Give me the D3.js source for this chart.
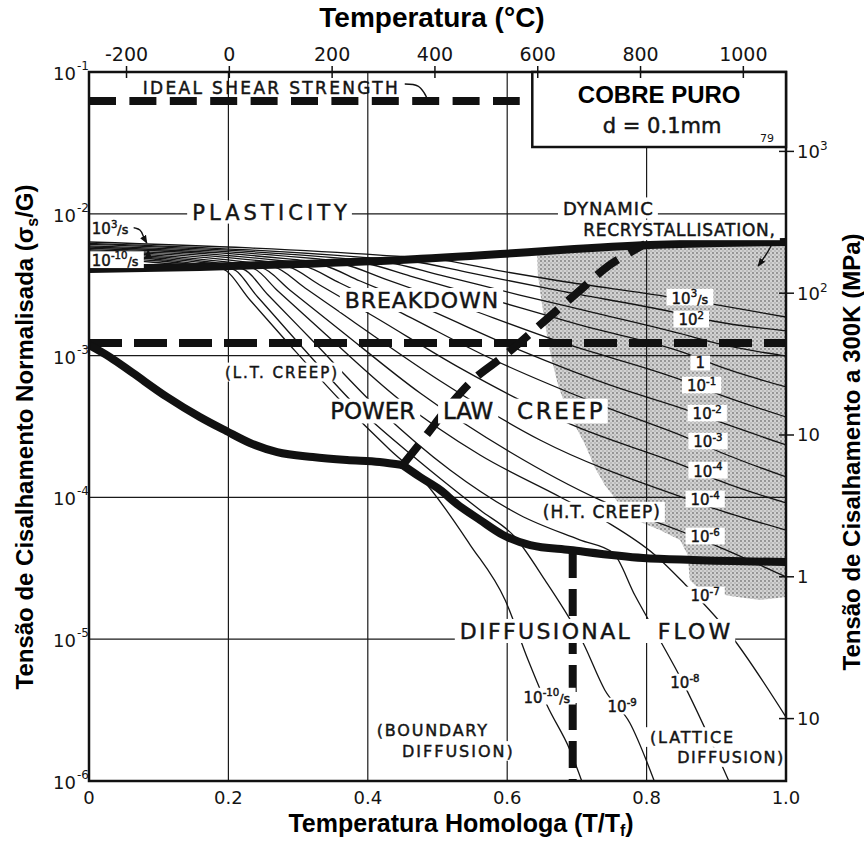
<!DOCTYPE html>
<html lang="pt">
<head>
<meta charset="utf-8">
<title>Mapa de mecanismos de deformação — cobre puro</title>
<script src="https://cdn.jsdelivr.net/npm/d3@7/dist/d3.min.js"></script>
<style>
  html, body { margin: 0; padding: 0; background: #fff; }
  svg { display: block; }
  text { font-family: "DejaVu Sans", "Noto Sans", sans-serif; fill: #141414; }
  .field { stroke: #141414; stroke-width: 0.45px; }
  .bold { font-family: "Liberation Sans", Arial, "Noto Sans", sans-serif; font-weight: bold; fill: #000; }
</style>
</head>
<body>
<svg id="map" width="864" height="841"></svg>
<script>
// ---------- axes ----------
const homologTicks = [0, 0.2, 0.4, 0.6, 0.8, 1.0];
const homologTickText = ["0", "0.2", "0.4", "0.6", "0.8", "1.0"];
const celsiusTicks = [-200, 0, 200, 400, 600, 800, 1000];
const celsiusRange = [-273, 1083];            // absolute zero .. melting point of Cu
const stressDecades = [-1, -2, -3, -4, -5, -6]; // log10(sigma_s / G)
const mpaTicks = [1000, 100, 10, 1, 0.1];
const mpaTickBase = ["10", "10", "10", "1", "10"];
const mpaTickSup = ["3", "2", "", "", ""];
const shearModulus300K = 36300;                // MPa

// ---------- field boundaries: [T/Tm, log10(sigma_s/G)] ----------
const idealShearStrength = [[0, -1.205], [0.618, -1.205]];
const plasticityBoundary = [[0, -2.389], [0.159, -2.375], [0.303, -2.354], [0.446, -2.326], [0.590, -2.284],
  [0.676, -2.255], [0.805, -2.220], [0.905, -2.206], [1, -2.199]];
const breakdownBoundary = [[0, -2.911], [1, -2.911]];
const creepDiffusionBoundary = [[0, -2.925], [0.030, -3.010], [0.063, -3.123], [0.112, -3.292], [0.159, -3.433],
  [0.197, -3.532], [0.231, -3.616], [0.270, -3.680], [0.321, -3.715], [0.370, -3.736], [0.417, -3.750],
  [0.450, -3.772], [0.475, -3.856], [0.504, -3.948], [0.528, -4.047], [0.561, -4.159], [0.594, -4.265],
  [0.633, -4.336], [0.690, -4.371], [0.795, -4.427], [0.867, -4.441], [1, -4.456]];
const triplePointIndex = 11;
const recrystBoundary = [[0.450, -3.772], [0.482, -3.574], [0.518, -3.348], [0.554, -3.158], [0.597, -2.996],
  [0.647, -2.784], [0.700, -2.559], [0.747, -2.361], [0.798, -2.213]];
const boundaryLatticeLimit = [[0.694, -4.378], [0.694, -6]];
const recrystRegion = [[0.643, -2.255], [0.805, -2.220], [1, -2.199], [1, -4.702], [0.963, -4.724],
  [0.920, -4.695], [0.877, -4.653], [0.862, -4.582], [0.859, -4.406], [0.848, -4.300], [0.819, -4.230],
  [0.791, -4.173], [0.762, -4.054], [0.740, -3.913], [0.726, -3.793], [0.712, -3.630], [0.697, -3.489],
  [0.683, -3.348], [0.673, -3.207], [0.664, -3.031], [0.657, -2.855], [0.650, -2.643], [0.644, -2.432]];

// ---------- strain-rate contours, log10(rate / s^-1) ----------
const contourRates = [3, 2, 1, 0, -1, -2, -3, -4, -5, -6, -7, -8, -9, -10];
const contourPoints = [
  [[0, -2.199], [0.231, -2.241], [0.417, -2.291], [0.498, -2.319], [0.590, -2.403], [0.676, -2.474], [0.834, -2.587], [0.901, -2.643], [1, -2.728]],
  [[0, -2.208], [0.231, -2.255], [0.389, -2.305], [0.461, -2.333], [0.547, -2.417], [0.676, -2.544], [0.838, -2.693], [0.895, -2.756], [1, -2.826]],
  [[0, -2.216], [0.217, -2.262], [0.360, -2.312], [0.426, -2.340], [0.504, -2.432], [0.618, -2.573], [0.733, -2.707], [0.862, -2.862], [0.898, -2.911], [1, -3.003]],
  [[0, -2.226], [0.202, -2.269], [0.331, -2.319], [0.395, -2.347], [0.461, -2.439], [0.561, -2.580], [0.704, -2.784], [0.867, -3.003], [0.891, -3.052], [1, -3.221]],
  [[0, -2.234], [0.188, -2.276], [0.303, -2.326], [0.363, -2.354], [0.425, -2.460], [0.518, -2.622], [0.676, -2.904], [0.858, -3.186], [0.895, -3.257], [1, -3.433]],
  [[0, -2.243], [0.174, -2.284], [0.281, -2.333], [0.334, -2.361], [0.389, -2.474], [0.475, -2.650], [0.618, -2.961], [0.747, -3.207], [0.862, -3.391], [0.905, -3.468], [1, -3.630]],
  [[0, -2.252], [0.159, -2.291], [0.260, -2.340], [0.308, -2.368], [0.360, -2.488], [0.446, -2.693], [0.575, -3.017], [0.733, -3.348], [0.862, -3.588], [0.905, -3.680], [1, -3.856]],
  [[0, -2.261], [0.145, -2.298], [0.238, -2.347], [0.286, -2.375], [0.331, -2.502], [0.410, -2.728], [0.532, -3.087], [0.690, -3.482], [0.858, -3.786], [0.905, -3.884], [1, -4.039]],
  [[0, -2.269], [0.131, -2.305], [0.224, -2.354], [0.265, -2.375], [0.310, -2.523], [0.382, -2.770], [0.504, -3.179], [0.647, -3.595], [0.858, -4.011], [0.895, -4.075], [1, -4.230]],
  [[0, -2.279], [0.123, -2.312], [0.209, -2.361], [0.248, -2.382], [0.288, -2.537], [0.360, -2.819], [0.475, -3.264], [0.604, -3.680], [0.733, -4.018], [0.852, -4.244], [0.901, -4.343], [1, -4.561]],
  [[0, -2.287], [0.116, -2.319], [0.195, -2.361], [0.234, -2.382], [0.271, -2.544], [0.339, -2.848], [0.446, -3.313], [0.561, -3.701], [0.676, -3.997], [0.743, -4.173], [0.812, -4.406], [0.852, -4.597], [0.915, -4.935], [1, -5.549]],
  [[0, -2.296], [0.109, -2.326], [0.181, -2.368], [0.220, -2.389], [0.257, -2.573], [0.317, -2.876], [0.417, -3.384], [0.518, -3.807], [0.618, -4.124], [0.704, -4.300], [0.752, -4.392], [0.783, -4.688], [0.819, -5.006], [0.848, -5.266], [0.918, -6.0]],
  [[0, -2.305], [0.102, -2.333], [0.166, -2.368], [0.205, -2.389], [0.242, -2.587], [0.303, -2.925], [0.389, -3.384], [0.475, -3.750], [0.561, -4.089], [0.611, -4.279], [0.654, -4.582], [0.709, -5.027], [0.740, -5.358], [0.776, -5.591], [0.811, -6.0]],
  [[0, -2.313], [0.088, -2.340], [0.152, -2.368], [0.191, -2.389], [0.231, -2.608], [0.288, -2.925], [0.360, -3.313], [0.432, -3.666], [0.479, -3.877], [0.547, -4.336], [0.597, -4.724], [0.630, -5.147], [0.657, -5.464], [0.690, -5.781], [0.707, -6.0]]
];

// ---------- annotations (placed in T/Tm, log10 stress) ----------
const fieldLabels = [
  { text: "IDEAL SHEAR STRENGTH", t0: 0.077, t1: 0.443, L: -1.113, size: 17, box: false },
  { text: "PLASTICITY", t0: 0.148, t1: 0.370, L: -1.987, size: 21, box: true },
  { text: "DYNAMIC", t0: 0.680, t1: 0.809, L: -1.959, size: 18, box: true },
  { text: "RECRYSTALLISATION,", t0: 0.709, t1: 0.984, L: -2.114, size: 17, box: true },
  { text: "BREAKDOWN", t0: 0.367, t1: 0.587, L: -2.608, size: 22, box: true },
  { text: "(L.T. CREEP)", t0: 0.195, t1: 0.356, L: -3.116, size: 15, box: true },
  { text: "POWER", t0: 0.346, t1: 0.468, L: -3.391, size: 23, box: true },
  { text: "LAW", t0: 0.508, t1: 0.580, L: -3.391, size: 23, box: true },
  { text: "CREEP", t0: 0.614, t1: 0.737, L: -3.391, size: 23, box: true },
  { text: "(H.T. CREEP)", t0: 0.651, t1: 0.819, L: -4.103, size: 17, box: true },
  { text: "DIFFUSIONAL", t0: 0.532, t1: 0.776, L: -4.942, size: 22, box: true, padR: 26 },
  { text: "FLOW", t0: 0.816, t1: 0.920, L: -4.942, size: 22, box: true },
  { text: "(BOUNDARY", t0: 0.413, t1: 0.571, L: -5.640, size: 16, box: true },
  { text: "DIFFUSION)", t0: 0.449, t1: 0.608, L: -5.788, size: 16, box: true },
  { text: "(LATTICE", t0: 0.805, t1: 0.924, L: -5.690, size: 16, box: true },
  { text: "DIFFUSION)", t0: 0.844, t1: 0.996, L: -5.831, size: 16, box: true }
];
const rateLabels = [
  { base: "10", sup: "3", suffix: "/s", t: 0.862, L: -2.594 },
  { base: "10", sup: "2", t: 0.864, L: -2.749 },
  { base: "1", t: 0.877, L: -3.052 },
  { base: "10", sup: "-1", t: 0.879, L: -3.214 },
  { base: "10", sup: "-2", t: 0.887, L: -3.412 },
  { base: "10", sup: "-3", t: 0.888, L: -3.609 },
  { base: "10", sup: "-4", t: 0.888, L: -3.814 },
  { base: "10", sup: "-4", t: 0.884, L: -4.018 },
  { base: "10", sup: "-6", t: 0.884, L: -4.279 },
  { base: "10", sup: "-7", t: 0.884, L: -4.695 },
  { base: "10", sup: "-8", t: 0.855, L: -5.309 },
  { base: "10", sup: "-9", t: 0.765, L: -5.478 },
  { base: "10", sup: "-10", suffix: "/s", t: 0.657, L: -5.408 },
  { base: "10", sup: "3", suffix: "/s", t: 0.004, L: -2.107, anchor: "start" },
  { base: "10", sup: "-10", suffix: "/s", t: 0.004, L: -2.330, anchor: "start" }
];
const leaders = [
  { pts: [[0.453, -1.085], [0.472, -1.099], [0.481, -1.148], [0.486, -1.197]], head: false },
  { pts: [[0.056, -2.093], [0.073, -2.114], [0.079, -2.171], [0.083, -2.206]], head: true },
  { pts: [[0.069, -2.326], [0.083, -2.305], [0.085, -2.255]], head: true },
  { pts: [[0.986, -2.128], [0.977, -2.241], [0.960, -2.368]], head: true }
];

// ---------- scales ----------
const svg = d3.select("#map");
const x = d3.scaleLinear().domain([0, 1]).range([89, 786]);
const y = d3.scaleLog().domain([1e-6, 1e-1]).range([781, 72]);
const yL = L => y(Math.pow(10, L));
const tempX = d3.scaleLinear().domain(celsiusRange).range(x.range());
const mpaY = v => y(v / shearModulus300K);

const straight = d3.line().x(d => x(d[0])).y(d => yL(d[1]));
const smooth = d3.line().x(d => x(d[0])).y(d => yL(d[1])).curve(d3.curveMonotoneX);
const smoothAny = d3.line().x(d => x(d[0])).y(d => yL(d[1])).curve(d3.curveCatmullRom.alpha(0.5));

// ---------- defs ----------
const defs = svg.append("defs");
const pat = defs.append("pattern").attr("id", "stipple").attr("width", 4).attr("height", 4)
  .attr("patternUnits", "userSpaceOnUse");
pat.append("rect").attr("width", 4).attr("height", 4).attr("fill", "#d2d2d2");
pat.append("circle").attr("cx", 1).attr("cy", 1).attr("r", 0.9).attr("fill", "#7a7a7a");
pat.append("circle").attr("cx", 3).attr("cy", 3).attr("r", 0.7).attr("fill", "#969696");
defs.append("marker").attr("id", "head").attr("viewBox", "0 0 10 10").attr("refX", 9).attr("refY", 5)
  .attr("markerWidth", 6).attr("markerHeight", 6).attr("orient", "auto")
  .append("path").attr("d", "M0,1L10,5L0,9Z").attr("fill", "#111");

svg.append("rect").attr("width", 864).attr("height", 841).attr("fill", "#fff");

// ---------- dynamic recrystallisation field ----------
svg.append("path").datum(recrystRegion)
  .attr("d", d3.line().x(d => x(d[0])).y(d => yL(d[1])).curve(d3.curveLinearClosed))
  .attr("fill", "url(#stipple)");

// ---------- grid ----------
const grid = svg.append("g").attr("stroke", "#1a1a1a").attr("stroke-width", 1.2);
homologTicks.filter(t => t > 0 && t < 1).forEach(t =>
  grid.append("line").attr("x1", x(t)).attr("x2", x(t)).attr("y1", y(1e-1)).attr("y2", y(1e-6)));
stressDecades.filter(e => e < -1 && e > -6).forEach(e =>
  grid.append("line").attr("x1", x(0)).attr("x2", x(1)).attr("y1", yL(e)).attr("y2", yL(e)));

// ---------- strain-rate contours ----------
const cg = svg.append("g").attr("fill", "none").attr("stroke", "#141414").attr("stroke-width", 1.3);
contourPoints.forEach((pts, i) => cg.append("path").attr("class", "rate-" + contourRates[i]).attr("d", smooth(pts)));

// ---------- field boundaries ----------
const bg = svg.append("g").attr("fill", "none").attr("stroke", "#111").attr("stroke-linecap", "butt");
bg.append("path").attr("d", straight(idealShearStrength)).attr("stroke-width", 8).attr("stroke-dasharray", "27 13.4");
bg.append("path").attr("d", smooth(plasticityBoundary)).attr("stroke-width", 8);
bg.append("path").attr("d", straight(breakdownBoundary)).attr("stroke-width", 8).attr("stroke-dasharray", "33 12");
bg.append("path").attr("d", smooth(creepDiffusionBoundary.slice(0, triplePointIndex + 1)))
  .attr("stroke-width", 8).attr("stroke-linejoin", "round");
bg.append("path").attr("d", smooth(creepDiffusionBoundary.slice(triplePointIndex)))
  .attr("stroke-width", 8).attr("stroke-linejoin", "round");
bg.append("circle").attr("cx", x(creepDiffusionBoundary[triplePointIndex][0]))
  .attr("cy", yL(creepDiffusionBoundary[triplePointIndex][1])).attr("r", 4).attr("fill", "#111").attr("stroke", "none");
bg.append("path").attr("d", smoothAny(recrystBoundary)).attr("stroke-width", 8).attr("stroke-dasharray", "26 13");
bg.append("path").attr("d", straight(boundaryLatticeLimit)).attr("stroke-width", 8).attr("stroke-dasharray", "27 11");

// ---------- leaders ----------
const lg = svg.append("g").attr("fill", "none").attr("stroke", "#111").attr("stroke-width", 1.4);
leaders.forEach(l => {
  const p = lg.append("path").attr("d", smoothAny(l.pts));
  if (l.head) p.attr("marker-end", "url(#head)");
});

// ---------- labels ----------
const labels = svg.append("g");
fieldLabels.forEach(f => {
  const g = labels.append("g");
  const x0 = x(f.t0), x1 = x(f.t1), cy = yL(f.L), base = cy + 0.365 * f.size, cap = 0.73 * f.size;
  if (f.box) {
    g.append("rect").attr("x", x0 - 5).attr("y", base - cap - 4)
      .attr("width", x1 - x0 + 10 + (f.padR || 0)).attr("height", cap + 8).attr("fill", "#fff");
  }
  g.append("text").attr("class", "field").attr("x", x0).attr("y", base).style("font-size", f.size + "px")
    .attr("textLength", x1 - x0).attr("lengthAdjust", "spacing").text(f.text);
});

function powerLabel(g, px, py, base, sup, suffix, fs, anchor) {
  const t = g.append("text").attr("class", "field").attr("x", px).attr("y", py + 0.365 * fs)
    .attr("text-anchor", anchor || "middle").style("font-size", fs + "px");
  t.append("tspan").text(base);
  if (sup) t.append("tspan").attr("dy", -0.45 * fs).style("font-size", (0.68 * fs) + "px").text(sup);
  if (suffix) t.append("tspan").attr("dy", sup ? 0.45 * fs : 0).style("font-size", (0.85 * fs) + "px").text(suffix);
  return t;
}
rateLabels.forEach(r => {
  const g = labels.append("g");
  const t = powerLabel(g, x(r.t), yL(r.L), r.base, r.sup, r.suffix, 15, r.anchor);
  const b = t.node().getBBox();
  g.insert("rect", "text").attr("x", b.x - 5).attr("y", b.y + 1).attr("width", b.width + 10)
    .attr("height", b.height - 3).attr("fill", "#fff");
});

// ---------- frame ----------
svg.append("rect").attr("x", x(0)).attr("y", y(1e-1)).attr("width", x(1) - x(0)).attr("height", y(1e-6) - y(1e-1))
  .attr("fill", "none").attr("stroke", "#111").attr("stroke-width", 2.5);

// material box
const bx0 = x(0.636), bx1 = x(1), by0 = y(1e-1), by1 = yL(-1.529);
svg.append("rect").attr("x", bx0).attr("y", by0).attr("width", bx1 - bx0).attr("height", by1 - by0)
  .attr("fill", "#fff").attr("stroke", "#111").attr("stroke-width", 2.5);
svg.append("text").attr("class", "bold").attr("x", (bx0 + bx1) / 2).attr("y", by0 + 31)
  .attr("text-anchor", "middle").style("font-size", "24px").text("COBRE PURO");
svg.append("text").attr("class", "field").attr("x", (bx0 + bx1) / 2 + 3).attr("y", by0 + 61)
  .attr("text-anchor", "middle").style("font-size", "21px").text("d = 0.1mm");
svg.append("text").attr("x", bx1 - 12).attr("y", by1 - 5)
  .attr("text-anchor", "end").style("font-size", "11px").text("79");

// top axis (°C)
const tempAxis = svg.append("g");
celsiusTicks.forEach(c => {
  tempAxis.append("line").attr("x1", tempX(c)).attr("x2", tempX(c)).attr("y1", y(1e-1) - 6).attr("y2", y(1e-1) + 6)
    .attr("stroke", "#111").attr("stroke-width", 1.5);
  tempAxis.append("text").attr("x", tempX(c)).attr("y", 61).attr("text-anchor", "middle")
    .style("font-size", "19px").text(c);
});

// bottom axis (T/Tm)
homologTicks.forEach((t, i) => {
  svg.append("text").attr("x", x(t)).attr("y", 804).attr("text-anchor", "middle")
    .style("font-size", "18px").text(homologTickText[i]);
});

// left axis (sigma_s/G)
stressDecades.forEach(e => {
  const yy = yL(e);
  svg.append("text").attr("x", 76).attr("y", yy + 8).attr("text-anchor", "end").style("font-size", "18px").text("10");
  svg.append("text").attr("x", 77).attr("y", yy - 2).style("font-size", "12px").text(String(e));
});

// right axis (MPa at 300 K)
mpaTicks.forEach((v, i) => {
  const yy = mpaY(v);
  svg.append("line").attr("x1", x(1) - 7).attr("x2", x(1) + 8).attr("y1", yy).attr("y2", yy)
    .attr("stroke", "#111").attr("stroke-width", 1.5);
  const t = svg.append("text").attr("x", 797).attr("y", yy + 6.5).style("font-size", "18px");
  t.append("tspan").text(mpaTickBase[i]);
  if (mpaTickSup[i]) t.append("tspan").attr("dy", -8).style("font-size", "12px").text(mpaTickSup[i]);
});

// axis titles
svg.append("text").attr("class", "bold").attr("x", 432).attr("y", 27).attr("text-anchor", "middle")
  .style("font-size", "28px").text("Temperatura (°C)");
const bt = svg.append("text").attr("class", "bold").attr("x", 461).attr("y", 832).attr("text-anchor", "middle")
  .style("font-size", "25px");
bt.append("tspan").text("Temperatura Homologa (T/T");
bt.append("tspan").attr("dy", 4).style("font-size", "16px").text("f");
bt.append("tspan").attr("dy", -4).text(")");

const lt = svg.append("text").attr("class", "bold").attr("transform", "translate(33,437) rotate(-90)")
  .attr("text-anchor", "middle").style("font-size", "24px");
lt.append("tspan").text("Tensão de Cisalhamento Normalisada (σ");
lt.append("tspan").attr("dy", 5).style("font-size", "16px").text("s");
lt.append("tspan").attr("dy", -5).text("/G)");

svg.append("text").attr("class", "bold").attr("transform", "translate(860,452) rotate(-90)")
  .attr("text-anchor", "middle").style("font-size", "24px").text("Tensão de Cisalhamento a 300K (MPa)");
</script>
</body>
</html>
